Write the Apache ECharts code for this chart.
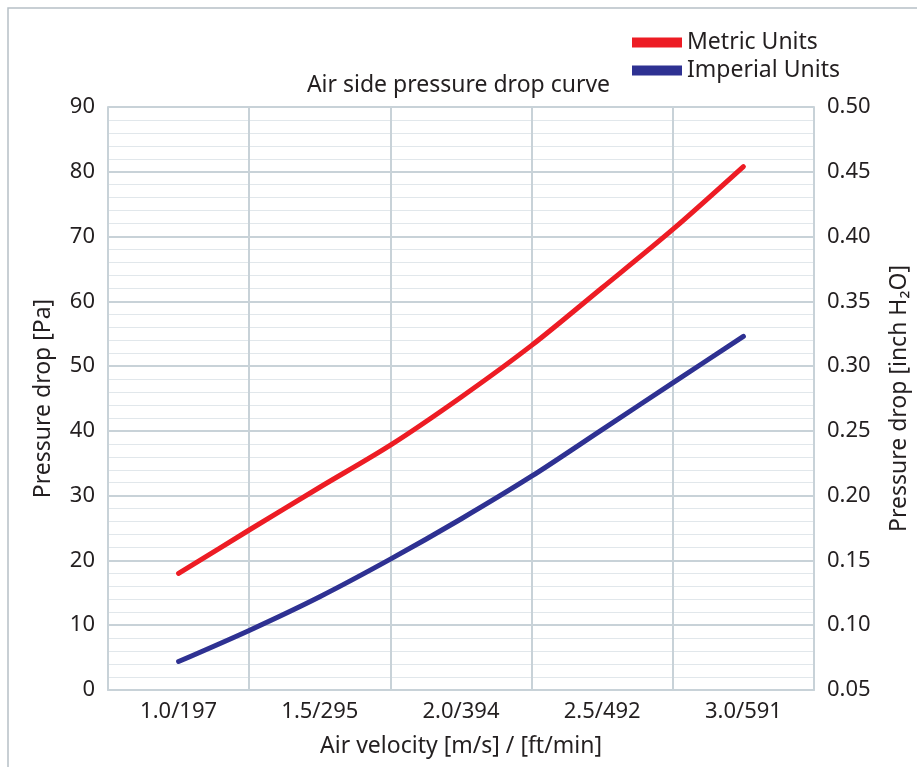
<!DOCTYPE html>
<html>
<head>
<meta charset="utf-8">
<script src="https://cdn.jsdelivr.net/npm/echarts@6/dist/echarts.min.js"></script>
<style>
  html, body { margin: 0; padding: 0; background: #fff; }
  #chart { width: 917px; height: 767px; }
</style>
</head>
<body>
<div id="chart"></div>
<script>
// category labels on the x axis (velocity m/s / ft/min)
const categories = ['1.0/197', '1.5/295', '2.0/394', '2.5/492', '3.0/591']

// air velocity [m/s] at which the curves were read
const velocity = [1.0, 1.25, 1.5, 1.75, 2.0, 2.25, 2.5, 2.75, 3.0]
// metric curve, Pa (left axis)
const metricPa = [18.0, 24.7, 31.3, 37.8, 45.2, 53.2, 62.1, 71.1, 80.8]
// imperial curve, inch H2O (right axis)
const imperialInH2O = [0.072, 0.096, 0.122, 0.151, 0.182, 0.215, 0.251, 0.287, 0.323]

const textColor = '#231f20'
const font = 'Noto Sans'

const chart = echarts.init(document.getElementById('chart'))

const option = {
    animation: false,
    backgroundColor: '#fff',
    title: {
        text: 'Air side pressure drop curve',
        left: 'center',
        top: 69,
        textStyle: { color: textColor, fontSize: 23, fontWeight: 'normal', fontFamily: font }
    },
    legend: {
        orient: 'vertical',
        left: 627,
        top: 26,
        itemWidth: 50,
        itemHeight: 10,
        itemGap: 5,
        icon: 'rect',
        textStyle: { color: textColor, fontSize: 23, fontFamily: font },
        data: ['Metric Units', 'Imperial Units']
    },
    grid: { left: 108, right: 103, top: 107, bottom: 77, outerBoundsMode: 'none' },
    xAxis: [
        {
            type: 'category',
            data: categories,
            boundaryGap: true,
            name: 'Air velocity [m/s] / [ft/min]',
            nameLocation: 'middle',
            nameGap: 45,
            nameTextStyle: { color: textColor, fontSize: 23, fontFamily: font },
            axisLine: { lineStyle: { color: '#c8d2d8', width: 2 } },
            axisTick: { show: false },
            axisLabel: { color: textColor, fontSize: 22, fontFamily: font, margin: 11 },
            splitLine: { show: true, lineStyle: { color: '#c8d2d8', width: 2 } }
        },
        {
            // hidden numeric axis used to place the curve points
            type: 'value',
            min: 0.75,
            max: 3.25,
            show: false
        }
    ],
    yAxis: [
        {
            type: 'value',
            min: 0,
            max: 90,
            interval: 10,
            name: 'Pressure drop [Pa]',
            nameLocation: 'middle',
            nameRotate: 90,
            nameGap: 53,
            nameTextStyle: { color: textColor, fontSize: 23, fontFamily: font },
            axisLine: { show: true, lineStyle: { color: '#c8d2d8', width: 2 } },
            axisTick: { show: false },
            axisLabel: { color: textColor, fontSize: 22, fontFamily: font, margin: 13 },
            splitLine: { lineStyle: { color: '#c8d2d8', width: 2 } },
            minorTick: { show: false, splitNumber: 5 },
            minorSplitLine: { show: true, lineStyle: { color: '#e1e7eb', width: 1 } }
        },
        {
            type: 'value',
            position: 'right',
            min: 0.05,
            max: 0.5,
            interval: 0.05,
            name: 'Pressure drop [inch H₂O]',
            nameLocation: 'middle',
            nameRotate: 90,
            nameGap: 74,
            nameTextStyle: { color: textColor, fontSize: 23, fontFamily: font },
            axisLine: { show: true, lineStyle: { color: '#c8d2d8', width: 2 } },
            axisTick: { show: false },
            axisLabel: {
                color: textColor, fontSize: 22, fontFamily: font, margin: 13,
                formatter: v => v.toFixed(2)
            },
            splitLine: { show: false }
        }
    ],
    series: [
        {
            name: 'Metric Units',
            type: 'line',
            xAxisIndex: 1,
            yAxisIndex: 0,
            smooth: 0.3,
            showSymbol: false,
            itemStyle: { color: '#ed1c24' },
            lineStyle: { color: '#ed1c24', width: 5, cap: 'round' },
            data: velocity.map((v, i) => [v, metricPa[i]])
        },
        {
            name: 'Imperial Units',
            type: 'line',
            xAxisIndex: 1,
            yAxisIndex: 1,
            smooth: 0.3,
            showSymbol: false,
            itemStyle: { color: '#2e3192' },
            lineStyle: { color: '#2e3192', width: 5, cap: 'round' },
            data: velocity.map((v, i) => [v, imperialInH2O[i]])
        }
    ],
    graphic: {
        elements: [{
            // outer frame of the figure
            type: 'rect',
            shape: { x: 8, y: 8, width: 1000, height: 1000 },
            style: { fill: null, stroke: '#b6c0c6', lineWidth: 1.5 },
            z: -1
        }]
    }
}

chart.setOption(option)
</script>
</body>
</html>
